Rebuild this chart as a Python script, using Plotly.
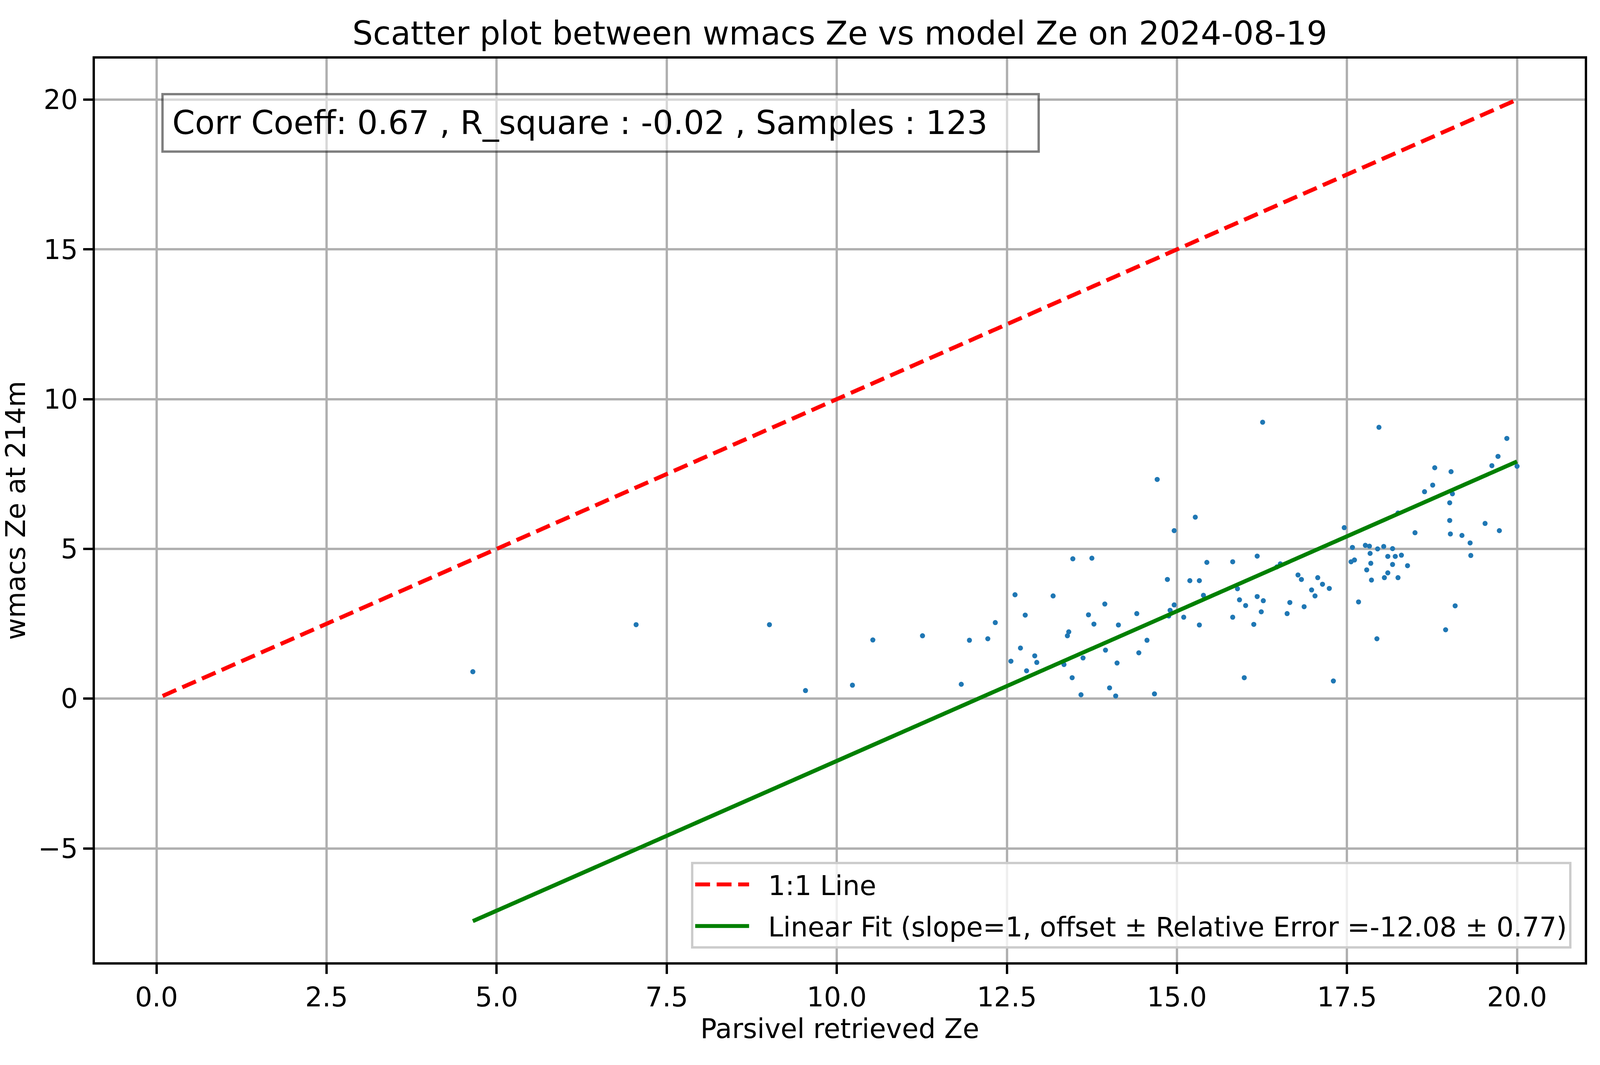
import plotly.graph_objects as go

# --- data ---
parsivel_ze = [
    4.65, 7.05, 9.01, 9.54, 10.23, 10.53, 11.26, 11.83,
    14.71, 15.27, 14.96, 13.47, 13.75, 15.44, 15.82, 14.86, 15.19, 15.33,
    12.62, 13.18, 15.89, 15.92, 16.01, 15.39, 14.96, 14.90, 14.88, 15.10,
    15.82, 15.33, 13.94, 12.77, 13.70, 14.41, 13.78, 14.14, 12.33, 11.95,
    12.22, 13.41, 13.39, 14.56, 12.70, 12.91, 12.94, 12.56, 13.34, 13.62,
    13.95, 14.44, 14.12, 12.79, 13.46, 14.01, 13.59, 14.10, 14.67, 15.99,
    16.26, 17.97, 19.85, 19.72, 19.63, 20.00, 18.79, 19.03, 18.76, 18.64,
    19.05, 19.01, 18.25, 19.01, 19.53, 19.74, 18.50, 19.02, 19.19, 19.31,
    19.32, 17.46, 17.58, 17.77, 17.83, 18.04, 17.95, 18.17, 17.84, 18.10,
    18.21, 18.30, 17.56, 17.61, 17.85, 18.17, 18.39, 17.79, 18.10, 18.05,
    18.25, 17.86, 16.18, 16.47, 16.52, 16.78, 16.83, 17.07, 17.14, 17.24,
    16.98, 17.03, 16.18, 16.27, 16.66, 16.87, 16.24, 16.62, 16.13, 17.67,
    19.09, 18.95, 17.94, 17.30,
]
wmacs_ze = [
    0.90, 2.47, 2.47, 0.27, 0.45, 1.96, 2.10, 0.48,
    7.32, 6.06, 5.61, 4.67, 4.69, 4.55, 4.57, 3.98, 3.94, 3.94,
    3.47, 3.43, 3.67, 3.30, 3.11, 3.45, 3.13, 2.95, 2.76, 2.72,
    2.72, 2.46, 3.16, 2.79, 2.80, 2.84, 2.49, 2.46, 2.54, 1.95,
    2.00, 2.23, 2.10, 1.95, 1.69, 1.43, 1.21, 1.25, 1.14, 1.36,
    1.62, 1.53, 1.19, 0.93, 0.70, 0.36, 0.13, 0.09, 0.16, 0.70,
    9.23, 9.06, 8.69, 8.09, 7.78, 7.76, 7.71, 7.58, 7.13, 6.91,
    6.84, 6.54, 6.20, 5.95, 5.85, 5.61, 5.54, 5.50, 5.45, 5.20,
    4.78, 5.71, 5.05, 5.12, 5.09, 5.08, 5.00, 5.01, 4.85, 4.75,
    4.75, 4.79, 4.57, 4.63, 4.52, 4.48, 4.44, 4.30, 4.20, 4.04,
    4.04, 3.96, 4.76, 4.40, 4.50, 4.13, 3.98, 4.04, 3.82, 3.68,
    3.63, 3.43, 3.41, 3.27, 3.21, 3.07, 2.90, 2.84, 2.48, 3.23,
    3.10, 2.30, 2.00, 0.59,
]

fit_slope = 1
fit_offset = -12.08
fit_rel_error = 0.77
corr_coeff = 0.67
r_square = -0.02
n_samples = 123
date_str = "2024-08-19"

# --- derived lines ---
one_lo = min(min(parsivel_ze), min(wmacs_ze))
one_hi = max(max(parsivel_ze), max(wmacs_ze))
one_x = [one_lo, one_hi]
fit_x = [min(parsivel_ze), max(parsivel_ze)]
fit_y = [fit_slope * v + fit_offset for v in fit_x]

# matplotlib-like autoscale with 5% margins
x_lo, x_hi = min(one_lo, fit_x[0]), max(one_hi, fit_x[1])
y_lo, y_hi = min(one_lo, fit_y[0], min(wmacs_ze)), max(one_hi, fit_y[1])
x_pad = 0.05 * (x_hi - x_lo)
y_pad = 0.05 * (y_hi - y_lo)

FONT = "DejaVu Sans"
W, H = 4995, 2726
M_L, M_R, M_T, M_B = 296, 47, 150, 263
LW = 10.4          # 1.5pt at this resolution
AXW = 5.6          # 0.8pt
NB = "\u00a0"

fig = go.Figure()

fig.add_trace(go.Scatter(
    x=parsivel_ze, y=wmacs_ze, mode="markers",
    marker=dict(color="#1f77b4", size=13, line_width=0),
    showlegend=False,
))
fig.add_trace(go.Scatter(
    x=one_x, y=one_x, mode="lines", name=NB * 2 + "1:1 Line",
    legendgroup="one",
    line=dict(color="#ff0000", width=LW, dash="38px,17px"),
))
fig.add_trace(go.Scatter(
    x=fit_x, y=fit_y, mode="lines",
    name=NB * 2 + f"Linear Fit (slope={fit_slope}, offset \u00b1 Relative Error ={fit_offset} \u00b1 {fit_rel_error})",
    legendgroup="fit",
    line=dict(color="#008000", width=LW),
))

axis_common = dict(
    showgrid=True, gridcolor="#b0b0b0", gridwidth=AXW,
    showline=True, linecolor="black", linewidth=AXW, mirror=True,
    ticks="outside", ticklen=24, tickwidth=AXW, tickcolor="black",
    tickfont=dict(family=FONT, size=69, color="black"),
    zeroline=False,
)

fig.update_layout(
    width=W, height=H,
    paper_bgcolor="white", plot_bgcolor="white",
    margin=dict(l=M_L, r=M_R, t=M_T, b=M_B),
    font=dict(family=FONT, color="black"),
    title=dict(
        text=f"Scatter plot between wmacs Ze vs model Ze on {date_str}",
        font=dict(family=FONT, size=83, color="black"),
        x=0.5, xref="paper", xanchor="center",
        y=1 - 114 / H, yref="container", yanchor="bottom",
    ),
    xaxis=dict(
        axis_common,
        range=[x_lo - x_pad, x_hi + x_pad],
        dtick=2.5, tick0=0, tickformat=".1f",
        title=dict(text="Parsivel retrieved Ze", font=dict(family=FONT, size=69), standoff=20),
    ),
    yaxis=dict(
        axis_common,
        range=[y_lo - y_pad, y_hi + y_pad],
        dtick=5, tick0=0,
        title=dict(text="wmacs Ze at 214m", font=dict(family=FONT, size=69), standoff=20),
    ),
    legend=dict(
        x=0.991, xanchor="right", y=0.015, yanchor="bottom",
        bgcolor="rgba(255,255,255,0.8)", bordercolor="#cccccc", borderwidth=6,
        font=dict(family=FONT, size=69, color="black"),
        itemwidth=138, tracegroupgap=14,
    ),
    annotations=[dict(
        text=f"Corr Coeff: {corr_coeff} , R_square : {r_square} , Samples : {n_samples}" + NB * 4,
        xref="paper", yref="paper", x=0.0445, y=0.962,
        xanchor="left", yanchor="top", showarrow=False, align="left",
        font=dict(family=FONT, size=83, color="black"),
        bgcolor="rgba(255,255,255,0.5)", bordercolor="rgba(0,0,0,0.5)",
        borderwidth=6, borderpad=22,
    )],
)

# stretch the figure to the browser viewport, keeping margins proportional
fit_js = (
    "document.body.style.margin='0';document.body.style.overflow='hidden';"
    "var gd=document.getElementById('{plot_id}');"
    "var w=window.innerWidth,h=window.innerHeight;"
    f"var sx=w/{W},sy=h/{H};"
    "Plotly.relayout(gd,{width:w,height:h,"
    f"'margin.l':{M_L}*sx,'margin.r':{M_R}*sx,'margin.t':{M_T}*sy,'margin.b':{M_B}*sy}});"
)

fig.write_html("out.html", post_script=fit_js, config={"displayModeBar": False})
